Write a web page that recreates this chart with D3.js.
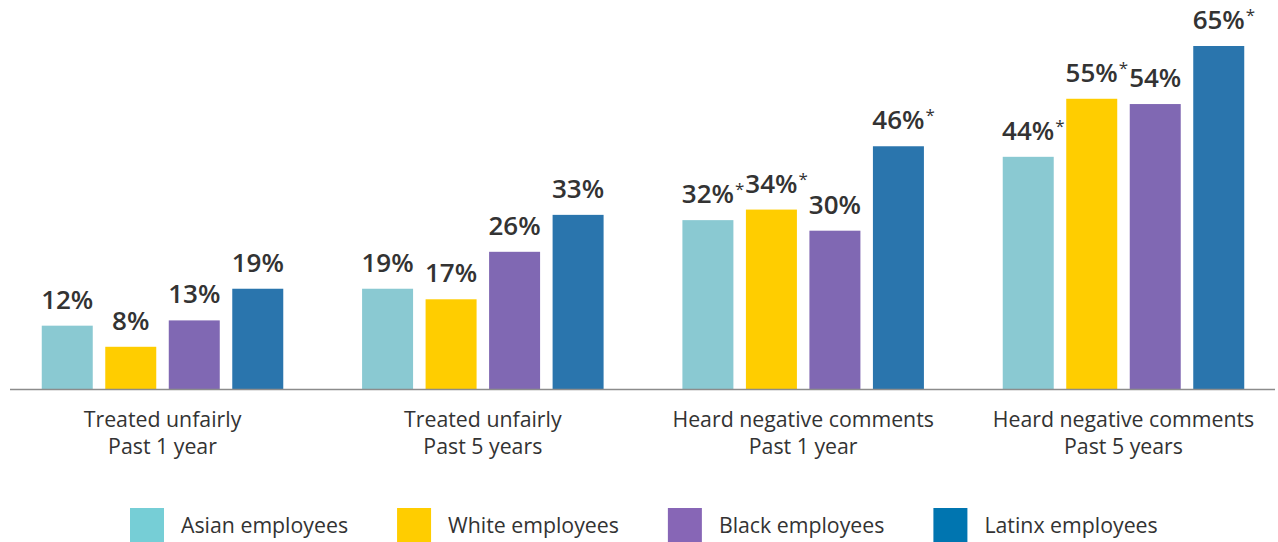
<!DOCTYPE html>
<html>
<head>
<meta charset="utf-8">
<script src="https://cdn.jsdelivr.net/npm/d3@7"></script>
<style>
  html, body { margin: 0; padding: 0; background: #fff; }
  svg { display: block; }
</style>
</head>
<body>
<svg id="chart" width="1278" height="542"></svg>
<script>
// Survey categories (two-line labels) and employee groups
const categories = [
  ["Treated unfairly", "Past 1 year"],
  ["Treated unfairly", "Past 5 years"],
  ["Heard negative comments", "Past 1 year"],
  ["Heard negative comments", "Past 5 years"]
];
const groups = ["Asian employees", "White employees", "Black employees", "Latinx employees"];

// Percent values per category, one entry per group
const asianValues  = [12, 19, 32, 44];
const whiteValues  = [8, 17, 34, 55];
const blackValues  = [13, 26, 30, 54];
const latinxValues = [19, 33, 46, 65];

// Significance markers (asterisk) per category, one entry per group
const asianStar  = [false, false, true, true];
const whiteStar  = [false, false, true, true];
const blackStar  = [false, false, false, false];
const latinxStar = [false, false, true, true];

const barColors    = ["#8ac9d2", "#ffcd00", "#8068b3", "#2a75ad"];
const legendColors = ["#76ced6", "#ffcd00", "#8766b6", "#0075b0"];

const FONT = '"Open Sans", "Noto Sans", sans-serif';

const seriesValues = [asianValues, whiteValues, blackValues, latinxValues];
const seriesStars  = [asianStar, whiteStar, blackStar, latinxStar];

const catKeys = categories.map(c => c.join(" / "));
const rows = catKeys.map((key, i) => ({
  key,
  lines: categories[i],
  bars: groups.map((g, j) => ({ group: g, value: seriesValues[j][i], star: seriesStars[j][i], idx: j }))
}));

const svg = d3.select("#chart").style("font-family", FONT);
const baseY = 389;

const x0 = d3.scaleBand().domain(catKeys).range([35.5, 1250.5]).paddingInner(0.207).paddingOuter(0);
const x1 = d3.scaleBand().domain(groups).range([0, x0.bandwidth()]).paddingInner(0.197).paddingOuter(0.0985);
const y  = d3.scaleLinear().domain([0, 65]).range([baseY, 46]);

// Bars
const gCat = svg.append("g").selectAll("g").data(rows).join("g")
  .attr("transform", d => `translate(${x0(d.key)},0)`);

gCat.selectAll("rect").data(d => d.bars).join("rect")
  .attr("x", d => x1(d.group))
  .attr("y", d => y(d.value))
  .attr("width", x1.bandwidth())
  .attr("height", d => y(0) - y(d.value))
  .attr("fill", d => barColors[d.idx]);

// Value labels, centred on the bar; the asterisk hangs to the right
const lbl = gCat.selectAll("g.lbl").data(d => d.bars).join("g").attr("class", "lbl");
lbl.append("text")
  .attr("class", "val")
  .attr("x", d => x1(d.group) + x1.bandwidth() / 2)
  .attr("y", d => y(d.value) - 17)
  .attr("text-anchor", "middle")
  .style("font-family", FONT)
  .attr("font-size", 26)
  .attr("font-weight", 600)
  .attr("fill", "#333")
  .text(d => d.value + "%");

lbl.each(function(d) {
  if (!d.star) return;
  const g = d3.select(this);
  const w = g.select("text.val").node().getComputedTextLength();
  g.append("text")
    .attr("x", x1(d.group) + x1.bandwidth() / 2 + w / 2 + 1)
    .attr("y", y(d.value) - 17 - 8)
    .style("font-family", FONT)
    .attr("font-size", 17)
    .attr("fill", "#333")
    .text("*");
});

// Baseline
svg.append("line")
  .attr("x1", 10).attr("x2", 1275)
  .attr("y1", baseY + 0.5).attr("y2", baseY + 0.5)
  .attr("stroke", "#8c8c8c")
  .attr("stroke-width", 1.6);

// Category axis (two-line labels)
const axis = svg.append("g")
  .attr("transform", `translate(0,${baseY})`)
  .call(d3.axisBottom(x0).tickSize(0).tickFormat(""));
axis.attr("font-family", null);
axis.select(".domain").remove();
axis.selectAll(".tick text").remove();
axis.selectAll(".tick").each(function(key, i) {
  const t = d3.select(this).append("text")
    .attr("text-anchor", "middle")
    .style("font-family", FONT)
    .attr("font-size", 21.3)
    .attr("fill", "#333")
    .attr("y", 38);
  rows[i].lines.forEach((line, k) => {
    t.append("tspan").attr("x", 0).attr("dy", k === 0 ? 0 : 27).text(line);
  });
});

// Legend
const legend = svg.append("g").attr("transform", "translate(130,508)");
let lx = 0;
groups.forEach((g, i) => {
  const item = legend.append("g").attr("transform", `translate(${lx},0)`);
  item.append("rect").attr("width", 34).attr("height", 34).attr("fill", legendColors[i]);
  const t = item.append("text")
    .attr("x", 51).attr("y", 24.5)
    .style("font-family", FONT)
    .attr("font-size", 21.3)
    .attr("fill", "#333")
    .text(g);
  lx += 51 + t.node().getComputedTextLength() + 49;
});
</script>
</body>
</html>
